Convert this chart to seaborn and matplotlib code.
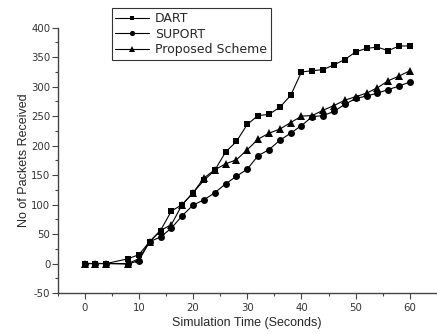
import matplotlib
matplotlib.use("Agg")
import matplotlib.pyplot as plt
import seaborn as sns
import pandas as pd
from matplotlib.ticker import MultipleLocator

time = [0, 2, 4, 8, 10, 12, 14, 16, 18, 20, 22, 24, 26, 28, 30, 32, 34, 36, 38, 40,
        42, 44, 46, 48, 50, 52, 54, 56, 58, 60]
dart = [0, 0, 0, 8, 15, 37, 56, 89, 100, 120, 141, 158, 189, 207, 236, 251, 253, 265, 285, 325,
        327, 329, 337, 346, 359, 365, 367, 361, 369, 369]
suport = [0, 0, 0, -1, 5, 37, 45, 60, 81, 99, 108, 120, 135, 148, 160, 183, 193, 209, 221, 234,
          249, 251, 258, 270, 280, 284, 289, 295, 301, 308]
proposed = [0, 0, 0, 0, 8, 37, 56, 66, 100, 120, 145, 159, 169, 176, 193, 211, 221, 228, 239, 250,
            251, 260, 268, 277, 283, 289, 298, 310, 318, 327]
series_names = ["DART", "SUPORT", "Proposed Scheme"]

df = pd.DataFrame({
    "time": time * 3,
    "value": dart + suport + proposed,
    "series": [series_names[0]] * len(time) + [series_names[1]] * len(time) + [series_names[2]] * len(time),
})

sns.set_style("ticks")
plt.rcParams["font.family"] = ["Liberation Sans", "DejaVu Sans"]
plt.rcParams["axes.unicode_minus"] = False

fig = plt.figure(figsize=(4.37, 3.34), dpi=100)
ax = fig.add_axes([57.5 / 437, 1 - 293 / 334, (437 - 57.5) / 437, (293 - 27.7) / 334])

markers = {"DART": "s", "SUPORT": "o", "Proposed Scheme": "^"}
sizes = {"DART": 4.2, "SUPORT": 5.0, "Proposed Scheme": 5.8}
for name in series_names:
    sub = df[df["series"] == name]
    sns.lineplot(data=sub, x="time", y="value", ax=ax, color="black", linewidth=0.8,
                 marker=markers[name], markersize=sizes[name], markeredgewidth=0,
                 markerfacecolor="black", label=name, legend=False)

ax.set_xlim(-5, 65)
ax.set_ylim(-50, 400)
ax.xaxis.set_major_locator(MultipleLocator(10))
ax.xaxis.set_minor_locator(MultipleLocator(5))
ax.yaxis.set_major_locator(MultipleLocator(50))
ax.yaxis.set_minor_locator(MultipleLocator(25))
ax.tick_params(which="major", direction="out", length=4, width=0.8, colors="#444444",
               labelcolor="#333333")
ax.tick_params(which="minor", direction="out", length=2, width=0.8, colors="#444444")
ax.tick_params(axis="x", pad=3)
ax.tick_params(axis="y", pad=1.2)
for lab in ax.get_xticklabels() + ax.get_yticklabels():
    lab.set_fontfamily("DejaVu Sans")
    lab.set_fontsize(7.3)
for s in ["top", "right"]:
    ax.spines[s].set_visible(False)
for s in ["left", "bottom"]:
    ax.spines[s].set_color("#444444")
    ax.spines[s].set_linewidth(1.0)

ax.set_xlabel("Simulation Time (Seconds)", fontsize=9, labelpad=3)
ax.set_ylabel("No of Packets Received", fontsize=9, labelpad=1)

handles, labels = ax.get_legend_handles_labels()
leg = fig.legend(handles, labels, loc="upper left", bbox_to_anchor=(111.5 / 437, 1 - 8.3 / 334),
                 bbox_transform=fig.transFigure, frameon=True, fancybox=False,
                 prop={"family": "DejaVu Sans", "size": 9},
                 handlelength=2.7, handletextpad=0.5, borderpad=0.3, labelspacing=0.2,
                 borderaxespad=0, markerscale=0.75)
leg.get_frame().set_edgecolor("black")
leg.get_frame().set_linewidth(0.8)

fig.savefig("out.png", dpi=100)
